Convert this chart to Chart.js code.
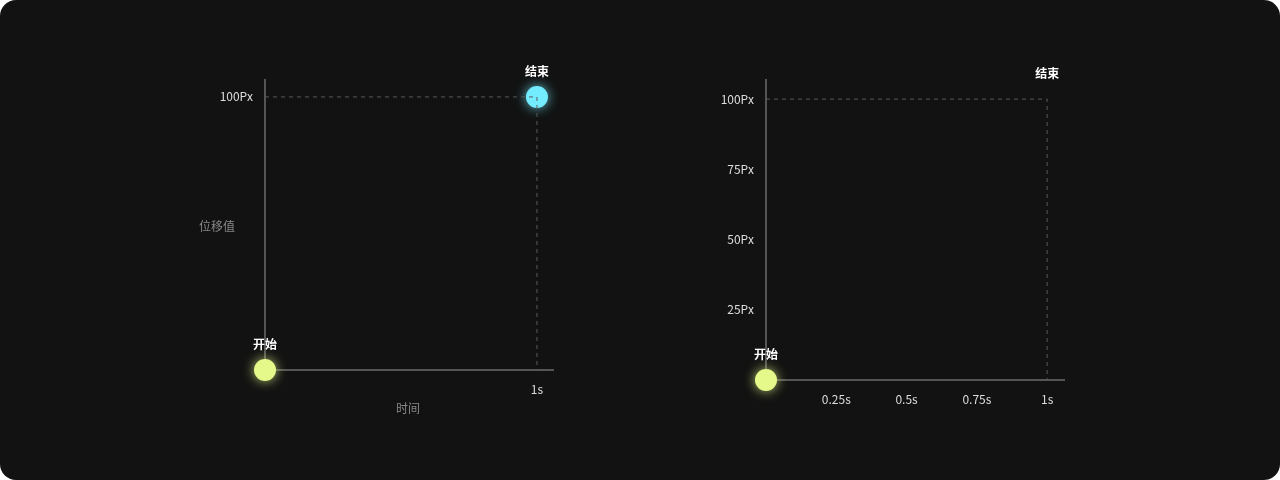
<!DOCTYPE html>
<html><head><meta charset="utf-8">
<script src="https://cdn.jsdelivr.net/npm/chart.js@4"></script>
<style>
body{margin:0;background:#fff;font-family:"Noto Sans CJK SC","Noto Sans",sans-serif}
#wrap{position:relative;width:1280px;height:480px;background:#121212;border-radius:16px;overflow:hidden}
.box{position:absolute;top:0;width:640px;height:480px}
</style></head><body>
<div id="wrap">
  <div class="box" style="left:0"><canvas id="c1"></canvas></div>
  <div class="box" style="left:640px"><canvas id="c2"></canvas></div>
</div>
<script>
// data
const startPoint = [{x:0, y:0}];
const endPoint = [{x:1, y:100}];
const guide = [{x:0, y:100}, {x:1, y:100}, {x:1, y:0}];
const leftXTicks = [1];
const leftYTicks = [100];
const rightXTicks = [0.25, 0.5, 0.75, 1];
const rightYTicks = [25, 50, 75, 100];
const fmtX = v => v + 's';
const fmtY = v => v + 'Px';

const font = {family:'"Noto Sans CJK SC","Noto Sans",sans-serif', size:12};

const glowPlugin = {
  id:'glow',
  beforeDatasetDraw(chart, args){
    const ds = chart.data.datasets[args.index];
    if(ds.glow){ chart.ctx.save(); chart.ctx.shadowColor = ds.glow; chart.ctx.shadowBlur = 12; }
  },
  afterDatasetDraw(chart, args){
    if(chart.data.datasets[args.index].glow) chart.ctx.restore();
  }
};

const labelPlugin = {
  id:'labels',
  afterDraw(chart, args, opts){
    const {ctx, scales:{x, y}} = chart;
    ctx.save();
    ctx.fillStyle = '#fff';
    ctx.font = 'bold 12px "Noto Sans CJK SC"';
    ctx.textAlign = 'center';
    ctx.textBaseline = 'middle';
    ctx.fillText('开始', x.getPixelForValue(0), y.getPixelForValue(0) - 26);
    ctx.fillText('结束', x.getPixelForValue(1), y.getPixelForValue(100) - (opts.endGap || 26));
    if(opts.titles){
      ctx.fillStyle = '#888';
      ctx.font = '12px "Noto Sans CJK SC"';
      ctx.fillText('位移值', 217, 226);
      ctx.fillText('时间', 408, 408);
    }
    ctx.restore();
  }
};

function makeChart(id, cfg){
  const datasets = [
    {type:'line', data:guide, borderColor:'#5a5a5a', borderWidth:1, borderDash:[4,4], pointRadius:0, fill:false, clip:false}
  ];
  datasets.push({type:'scatter', data:startPoint, backgroundColor:'#e4f98a', borderWidth:0, pointRadius:11, glow:'rgba(228,249,138,0.8)', clip:false});
  if(cfg.showEnd) datasets.push({type:'scatter', data:endPoint, backgroundColor:'#74ecff', borderWidth:0, pointRadius:11, glow:'rgba(116,236,255,0.8)', clip:false});
  const axis = (ticks, fmt, min, max, fit, pad) => ({
    type:'linear', min, max,
    grid:{display:false, drawTicks:false},
    border:{color:'#555', width:2},
    afterBuildTicks: s => { s.ticks = ticks.map(v => ({value:v})); },
    afterFit: fit,
    ticks:{color:'#ddd', font, padding:pad, callback:fmt}
  });
  new Chart(document.getElementById(id), {
    data:{datasets},
    options:{
      responsive:true, maintainAspectRatio:false, animation:false,
      layout:{padding:{top:80, right:cfg.right, left:0, bottom:0}},
      plugins:{legend:{display:false}, tooltip:{enabled:false}, labels:{titles:cfg.titles, endGap:cfg.endGap}},
      scales:{
        x: axis(cfg.xTicks, fmtX, 0, cfg.xMax, s => { s.height = cfg.bottom; }, 12),
        y: axis(cfg.yTicks, fmtY, 0, cfg.yMax, s => { s.width = cfg.left; }, 12)
      }
    },
    plugins:[glowPlugin, labelPlugin]
  });
}

makeChart('c1', {xTicks:leftXTicks, yTicks:leftYTicks, xMax:1.059, yMax:106.2, left:265, right:87, bottom:110, showEnd:true, titles:true, endGap:25});
makeChart('c2', {xTicks:rightXTicks, yTicks:rightYTicks, xMax:1.06, yMax:106.8, left:126, right:216, bottom:100, showEnd:false, titles:false, endGap:26});
</script>
</body></html>
